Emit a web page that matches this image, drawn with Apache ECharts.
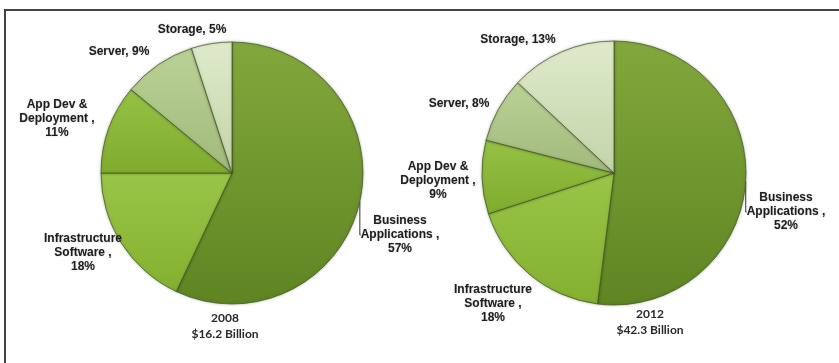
<!DOCTYPE html>
<html>
<head>
<meta charset="utf-8">
<script src="https://cdn.jsdelivr.net/npm/echarts@6/dist/echarts.min.js"></script>
<style>
html,body{margin:0;padding:0;background:#fff;}
#chart{width:839px;height:363px;}
</style>
</head>
<body>
<div id="chart"></div>
<script>
// ---- data ----
var categories = ['Business Applications', 'Infrastructure Software', 'App Dev & Deployment', 'Server', 'Storage'];
var labelNames = ['Business\nApplications ,', 'Infrastructure\nSoftware ,', 'App Dev &\nDeployment ,', 'Server,', 'Storage,'];
var values2008 = [57, 18, 11, 9, 5];
var values2012 = [52, 18, 9, 8, 13];
var years = ['2008', '2012'];
var totals = ['$16.2 Billion', '$42.3 Billion'];

// ---- styles / layout ----
var sliceColors = [
  ['#82a83c', '#5e8522'],
  ['#99c648', '#84b030'],
  ['#94c244', '#80ac2e'],
  ['#bad296', '#a1b97a'],
  ['#dfeacb', '#c4d4a9']
];
var labelPos = [
  [[400, 235], [83, 253], [57, 119], [119, 52], [192, 30]],
  [[786, 212], [493, 304], [438, 181], [459, 104], [518, 40]]
];
var pieCenters = [[232, 173], [614, 173]];
var pieRadii = [131, 132];
var totalPos = [[225, 310], [650, 306]];

function grad(i) {
  return {
    type: 'linear', x: 0, y: 0, x2: 0, y2: 1,
    colorStops: [{offset: 0, color: sliceColors[i][0]}, {offset: 1, color: sliceColors[i][1]}]
  };
}

function buildData(vals) {
  return categories.map(function (c, i) {
    return {
      name: c,
      value: vals[i],
      itemStyle: {color: grad(i)},
      labelLine: {show: i === 0}
    };
  });
}

var labelFont = {
  fontFamily: "'Liberation Sans', Arial, sans-serif",
  fontWeight: 'bold',
  fontSize: 12,
  lineHeight: 14,
  color: '#1e1e1e',
  textShadowColor: 'rgba(0,0,0,0.25)',
  textShadowBlur: 1.5
};

function makeSeries(idx, vals) {
  return {
    type: 'pie',
    center: pieCenters[idx],
    radius: [0, pieRadii[idx]],
    startAngle: 90,
    clockwise: true,
    animation: false,
    silent: true,
    data: buildData(vals),
    itemStyle: {
      borderColor: 'rgba(70,90,40,0.75)',
      borderWidth: 1,
      shadowColor: 'rgba(0,0,0,0.25)',
      shadowBlur: 3
    },
    label: Object.assign({
      show: true,
      position: 'outside',
      align: 'center',
      overflow: 'none',
      edgeDistance: 0,
      bleedMargin: 0,
      formatter: function (p) {
        return labelNames[p.dataIndex] + (p.dataIndex >= 3 ? ' ' : '\n') + p.value + '%';
      }
    }, labelFont),
    labelLine: {
      show: true,
      length: 12,
      length2: 6,
      lineStyle: {color: '#333', width: 1}
    },
    labelLayout: function (params) {
      var p = labelPos[idx][params.dataIndex];
      return {
        x: p[0],
        y: p[1],
        align: 'center',
        verticalAlign: 'middle'
      };
    }
  };
}

var titleStyle = {
  fontFamily: "Lato, 'Open Sans', sans-serif",
  fontWeight: 'bold',
  fontSize: 12,
  lineHeight: 16,
  color: '#2a2a2a'
};

var chart = echarts.init(document.getElementById('chart'), null, {renderer: 'canvas'});
chart.setOption({
  backgroundColor: '#ffffff',
  animation: false,
  title: [0, 1].map(function (i) {
    return {
      text: years[i] + '\n' + totals[i],
      left: totalPos[i][0],
      top: totalPos[i][1],
      textAlign: 'center',
      padding: 0,
      textStyle: titleStyle
    };
  }),
  graphic: [
    {type: 'line', shape: {x1: 4, y1: 10, x2: 839, y2: 10}, style: {stroke: '#444', lineWidth: 2}},
    {type: 'line', shape: {x1: 5, y1: 10, x2: 5, y2: 363}, style: {stroke: '#444', lineWidth: 2}}
  ],
  series: [makeSeries(0, values2008), makeSeries(1, values2012)]
});
</script>
</body>
</html>
